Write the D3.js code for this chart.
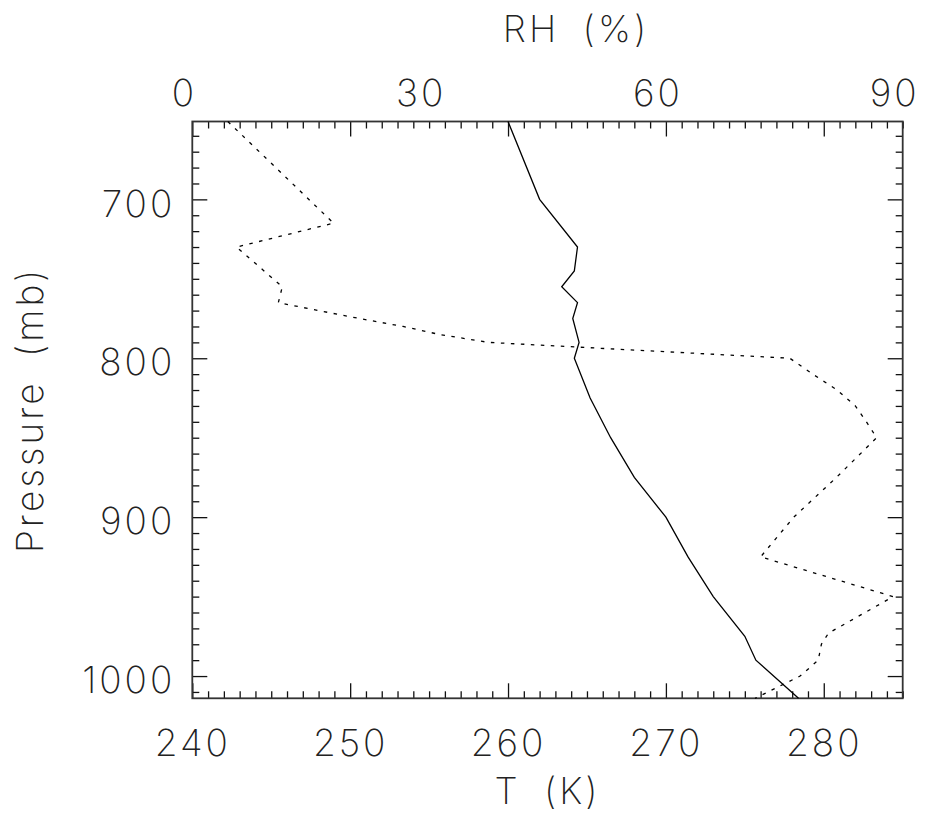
<!DOCTYPE html>
<html>
<head>
<meta charset="utf-8">
<script src="https://cdn.jsdelivr.net/npm/d3@7"></script>
<style>
  body { margin: 0; background: #fff; }
  svg { display: block; }
  text { font-family: Inter, Roboto, "DejaVu Sans", sans-serif; font-weight: 200; fill: #222; letter-spacing: 3px; word-spacing: 10px; }
</style>
</head>
<body>
<div id="chart"></div>
<script>
// temperature profile (solid line)
var tempPressure = [651, 700, 730, 745, 755, 765, 775, 790, 800, 825, 850, 875, 900, 925, 950, 975, 990, 1014];
var tempValues   = [260.0, 262.0, 264.4, 264.2, 263.4, 264.4, 264.1, 264.5, 264.2, 265.2, 266.5, 268.0, 270.0, 271.4, 273.0, 275.0, 275.7, 278.4];

// relative humidity profile (dotted line)
var rhPressure = [651, 715, 730, 755, 765, 770, 775, 780, 785, 790, 800, 810, 820, 830, 840, 850, 875, 900, 925, 950, 973, 980, 990, 1000, 1014];
var rhValues   = [4.5, 17.9, 5.6, 11.4, 10.9, 16.0, 21.2, 26.7, 31.3, 37.5, 75.7, 78.6, 81.7, 84.0, 85.4, 86.7, 81.6, 76.2, 72.0, 88.8, 80.6, 79.7, 79.3, 77.0, 71.3];

var tLabels = [240, 250, 260, 270, 280];
var rhLabels = [0, 30, 60, 90];
var pLabels = [700, 800, 900, 1000];

var width = 925, height = 819;
var margin = {top: 121.5, right: 22.3, bottom: 120.7, left: 192.3};
var innerW = width - margin.left - margin.right,
    innerH = height - margin.top - margin.bottom;

var svg = d3.select("#chart").append("svg")
  .attr("width", width)
  .attr("height", height);

var g = svg.append("g")
  .attr("transform", "translate(" + margin.left + "," + margin.top + ")");

var x = d3.scaleLinear().domain([240, 285]).range([0, innerW]);
var xRh = d3.scaleLinear().domain([0, 90]).range([0, innerW]);
var y = d3.scaleLinear().domain([651, 1014]).range([0, innerH]);

var minorX = x.ticks(45).filter(function(d){ return tLabels.indexOf(d) < 0; });
var minorY = y.ticks(36).filter(function(d){ return pLabels.indexOf(d) < 0; });

function styleAxis(sel){
  sel.select(".domain").remove();
  sel.selectAll(".tick line").attr("stroke", "#111").attr("stroke-width", 1.3);
  sel.selectAll("text").style("font-size", "37px").attr("fill", "#222");
}

// bottom axis (T)
g.append("g").attr("transform", "translate(0," + innerH + ")")
  .call(d3.axisBottom(x).tickValues(tLabels).tickSize(-15).tickPadding(31).tickFormat(d3.format("d")))
  .call(styleAxis);
g.append("g").attr("transform", "translate(0," + innerH + ")")
  .call(d3.axisBottom(x).tickValues(minorX).tickSize(-7).tickFormat(""))
  .call(styleAxis);

// top axis: ticks follow T, labels follow RH
g.append("g")
  .call(d3.axisTop(x).tickValues(tLabels).tickSize(-15).tickFormat(""))
  .call(styleAxis);
g.append("g")
  .call(d3.axisTop(x).tickValues(minorX).tickSize(-7).tickFormat(""))
  .call(styleAxis);
g.append("g").selectAll("text.rh")
  .data(rhLabels)
  .enter().append("text")
  .attr("class", "rh")
  .attr("x", function(d){ return xRh(d) - 8; })
  .attr("y", -15.5)
  .attr("text-anchor", "middle")
  .style("font-size", "37px")
  .text(function(d){ return d; });

// left axis (pressure)
g.append("g")
  .call(d3.axisLeft(y).tickValues(pLabels).tickSize(-15).tickPadding(17).tickFormat(d3.format("d")))
  .call(styleAxis)
  .selectAll("text").attr("dy", "0.45em");
g.append("g")
  .call(d3.axisLeft(y).tickValues(minorY).tickSize(-7).tickFormat(""))
  .call(styleAxis);

// right axis, no labels
g.append("g").attr("transform", "translate(" + innerW + ",0)")
  .call(d3.axisRight(y).tickValues(pLabels).tickSize(-15).tickFormat(""))
  .call(styleAxis);
g.append("g").attr("transform", "translate(" + innerW + ",0)")
  .call(d3.axisRight(y).tickValues(minorY).tickSize(-7).tickFormat(""))
  .call(styleAxis);

// frame
g.append("rect")
  .attr("width", innerW)
  .attr("height", innerH)
  .attr("fill", "none")
  .attr("stroke", "#333")
  .attr("stroke-width", 1.8);

// lines
var tLine = d3.line()
  .x(function(d, i){ return x(tempValues[i]); })
  .y(function(d){ return y(d); });
g.append("path")
  .datum(tempPressure)
  .attr("d", tLine)
  .attr("fill", "none")
  .attr("stroke", "#000")
  .attr("stroke-width", 1.3);

var rhLine = d3.line()
  .x(function(d, i){ return xRh(rhValues[i]); })
  .y(function(d){ return y(d); });
g.append("path")
  .datum(rhPressure)
  .attr("d", rhLine)
  .attr("fill", "none")
  .attr("stroke", "#000")
  .attr("stroke-width", 1.3)
  .attr("stroke-dasharray", "3.5,6.5");

// axis titles
svg.append("text")
  .attr("x", margin.left + innerW / 2)
  .attr("y", 804)
  .attr("text-anchor", "middle")
  .style("font-size", "37px")
  .text("T (K)");

svg.append("text")
  .attr("x", 576)
  .attr("y", 42)
  .attr("text-anchor", "middle")
  .style("font-size", "37px")
  .text("RH (%)");

svg.append("text")
  .attr("transform", "translate(43," + (margin.top + innerH / 2) + ") rotate(-90)")
  .attr("text-anchor", "middle")
  .style("font-size", "37px")
  .text("Pressure (mb)");
</script>
</body>
</html>
